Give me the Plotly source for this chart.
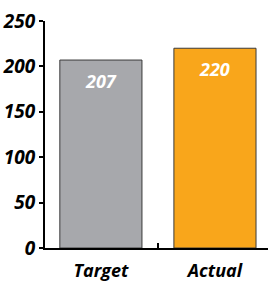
import plotly.graph_objects as go

categories = ["Target", "Actual"]
values = [207, 220]
colors = ["#a7a8ac", "#f9a61b"]
y_ticks = [0, 50, 100, 150, 200, 250]

fig = go.Figure()
fig.add_trace(go.Bar(
    x=categories, y=values,
    marker=dict(color=colors, line=dict(color="#3a3a3a", width=1)),
    hoverinfo="skip",
))
for c, v in zip(categories, values):
    fig.add_annotation(x=c, y=v, text=f"<b><i>{v}</i></b>", showarrow=False,
                       yshift=-21, font=dict(family="Open Sans", size=18, color="white"))

fig.update_layout(
    width=268, height=282,
    margin=dict(l=45, r=0, t=21, b=34),
    plot_bgcolor="white", paper_bgcolor="white",
    bargap=0.28, showlegend=False,
    font=dict(family="Open Sans", color="black"),
)
fig.update_xaxes(
    range=[-0.49, 1.465], showline=True, linecolor="black", linewidth=2,
    ticks="inside", tickson="boundaries", ticklen=5, tickwidth=1.5, tickcolor="black",
    tickfont=dict(size=18, family="Open Sans"),
    tickvals=categories, ticktext=[f"<b><i>{c}</i></b>" for c in categories],
    ticklabelstandoff=5,
    showgrid=False, zeroline=False, automargin=False,
)
fig.update_yaxes(
    range=[0, 250], showline=True, linecolor="black", linewidth=2,
    ticks="outside", ticklen=4, tickwidth=2, tickcolor="black",
    tickvals=y_ticks, ticktext=[f"<b><i>{t}</i></b>" for t in y_ticks],
    tickfont=dict(size=19, family="Open Sans"),
    showgrid=False, zeroline=False, automargin=False,
)
fig.write_html("out.html", config={"displayModeBar": False},
               post_script="document.body.style.margin='0';")
